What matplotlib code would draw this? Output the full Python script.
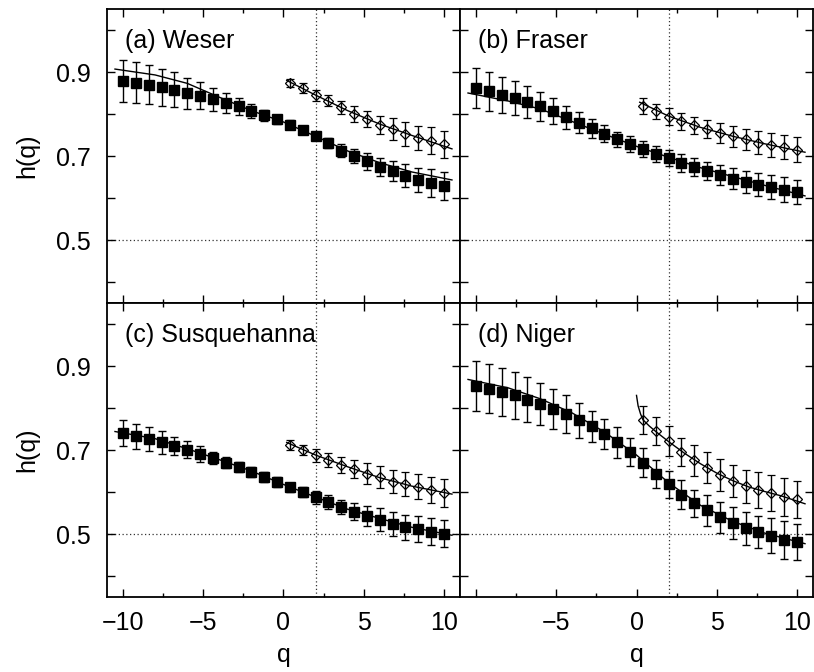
import matplotlib
matplotlib.use('Agg')
import matplotlib.pyplot as plt
from matplotlib.ticker import MultipleLocator, FixedLocator

plt.rcParams['font.family'] = ['Liberation Sans', 'DejaVu Sans']
plt.rcParams['font.size'] = 18

# q values of the data points
q_sq = [-10.0, -9.2, -8.4, -7.6, -6.8, -6.0, -5.2, -4.4, -3.6, -2.8, -2.0, -1.2, -0.4,
        0.4, 1.2, 2.0, 2.8, 3.6, 4.4, 5.2, 6.0, 6.8, 7.6, 8.4, 9.2, 10.0]
q_di = [0.4, 1.2, 2.0, 2.8, 3.6, 4.4, 5.2, 6.0, 6.8, 7.6, 8.4, 9.2, 10.0]

# q values where the fitted curves were read
q_fit_sq = [-10.5, -8, -6, -4, -2, 0, 2, 4, 6, 8, 10.5]
q_fit_di = [0.2, 2, 4, 6, 8, 10.5]
q_fit_di_niger = [0.0, 0.1, 0.25, 0.4, 0.8, 1.2, 2, 3, 4, 5, 6, 7, 8, 9, 10.5]

# (a) Weser
weser_sq = [0.879, 0.875, 0.870, 0.864, 0.858, 0.849, 0.844, 0.835, 0.826, 0.818, 0.808, 0.797, 0.787,
            0.775, 0.762, 0.748, 0.731, 0.713, 0.700, 0.687, 0.674, 0.664, 0.653, 0.643, 0.635, 0.629]
weser_sq_err = [0.050, 0.048, 0.046, 0.044, 0.041, 0.037, 0.033, 0.027, 0.024, 0.020, 0.017, 0.013, 0.011,
                0.010, 0.009, 0.010, 0.012, 0.015, 0.017, 0.020, 0.022, 0.024, 0.027, 0.029, 0.033, 0.033]
weser_di = [0.874, 0.861, 0.845, 0.832, 0.816, 0.800, 0.788, 0.774, 0.764, 0.753, 0.743, 0.736, 0.728]
weser_di_err = [0.010, 0.012, 0.013, 0.013, 0.016, 0.018, 0.020, 0.022, 0.026, 0.029, 0.029, 0.032, 0.032]
weser_fit_sq = [0.907, 0.893, 0.873, 0.840, 0.808, 0.781, 0.747, 0.712, 0.684, 0.662, 0.643]
weser_fit_di = [0.880, 0.845, 0.808, 0.776, 0.749, 0.717]

# (b) Fraser
fraser_sq = [0.862, 0.854, 0.846, 0.838, 0.828, 0.818, 0.807, 0.792, 0.779, 0.766, 0.753, 0.740, 0.728,
             0.717, 0.705, 0.695, 0.683, 0.674, 0.664, 0.655, 0.646, 0.638, 0.632, 0.626, 0.620, 0.615]
fraser_sq_err = [0.047, 0.046, 0.043, 0.041, 0.038, 0.034, 0.030, 0.028, 0.025, 0.022, 0.020, 0.018, 0.019,
                 0.019, 0.019, 0.019, 0.021, 0.022, 0.021, 0.024, 0.025, 0.026, 0.028, 0.028, 0.029, 0.029]
fraser_di = [0.818, 0.806, 0.794, 0.783, 0.773, 0.764, 0.755, 0.747, 0.740, 0.732, 0.726, 0.721, 0.715]
fraser_di_err = [0.019, 0.019, 0.020, 0.020, 0.021, 0.022, 0.024, 0.025, 0.025, 0.028, 0.028, 0.028, 0.030]
fraser_fit_sq = [0.850, 0.831, 0.812, 0.782, 0.752, 0.723, 0.697, 0.672, 0.651, 0.630, 0.605]
fraser_fit_di = [0.828, 0.795, 0.768, 0.747, 0.729, 0.709]

# (c) Susquehanna
susq_sq = [0.741, 0.733, 0.726, 0.718, 0.709, 0.701, 0.690, 0.681, 0.670, 0.659, 0.647, 0.636, 0.624,
           0.611, 0.599, 0.587, 0.576, 0.565, 0.553, 0.543, 0.534, 0.524, 0.516, 0.512, 0.505, 0.501]
susq_sq_err = [0.031, 0.030, 0.028, 0.027, 0.022, 0.021, 0.019, 0.015, 0.013, 0.012, 0.012, 0.011, 0.011,
               0.011, 0.012, 0.015, 0.017, 0.017, 0.020, 0.024, 0.028, 0.029, 0.030, 0.031, 0.032, 0.033]
susq_di = [0.711, 0.700, 0.687, 0.676, 0.665, 0.655, 0.644, 0.635, 0.625, 0.619, 0.613, 0.605, 0.598]
susq_di_err = [0.012, 0.013, 0.015, 0.017, 0.019, 0.021, 0.024, 0.026, 0.027, 0.029, 0.030, 0.031, 0.033]
susq_fit_sq = [0.744, 0.727, 0.703, 0.677, 0.650, 0.618, 0.588, 0.559, 0.537, 0.516, 0.497]
susq_fit_di = [0.718, 0.688, 0.660, 0.634, 0.614, 0.595]

# (d) Niger
niger_sq = [0.853, 0.846, 0.839, 0.830, 0.820, 0.810, 0.798, 0.785, 0.771, 0.756, 0.739, 0.718, 0.695,
            0.670, 0.643, 0.618, 0.594, 0.573, 0.556, 0.540, 0.526, 0.514, 0.505, 0.496, 0.486, 0.481]
niger_sq_err = [0.059, 0.058, 0.057, 0.055, 0.054, 0.050, 0.047, 0.045, 0.042, 0.038, 0.036, 0.036, 0.033,
                0.034, 0.034, 0.033, 0.034, 0.032, 0.036, 0.037, 0.039, 0.039, 0.039, 0.042, 0.045, 0.044]
niger_di = [0.772, 0.745, 0.721, 0.695, 0.676, 0.658, 0.640, 0.626, 0.614, 0.605, 0.597, 0.589, 0.583]
niger_di_err = [0.033, 0.034, 0.035, 0.034, 0.037, 0.037, 0.038, 0.038, 0.039, 0.042, 0.043, 0.045, 0.044]
niger_fit_sq = [0.868, 0.848, 0.822, 0.788, 0.743, 0.688, 0.622, 0.568, 0.530, 0.502, 0.477]
niger_fit_di = [0.830, 0.805, 0.786, 0.772, 0.757, 0.744, 0.720, 0.692, 0.667, 0.645, 0.627, 0.612,
                0.601, 0.591, 0.572]

panels = [
    ('(a) Weser', weser_sq, weser_sq_err, weser_di, weser_di_err, weser_fit_sq, q_fit_di, weser_fit_di),
    ('(b) Fraser', fraser_sq, fraser_sq_err, fraser_di, fraser_di_err, fraser_fit_sq, q_fit_di, fraser_fit_di),
    ('(c) Susquehanna', susq_sq, susq_sq_err, susq_di, susq_di_err, susq_fit_sq, q_fit_di, susq_fit_di),
    ('(d) Niger', niger_sq, niger_sq_err, niger_di, niger_di_err, niger_fit_sq, q_fit_di_niger, niger_fit_di),
]

fig = plt.figure(figsize=(8.14, 6.72), dpi=100)

x0, xm, x1 = 0.1314, 0.5651, 0.9988
yb, ym, yt = 0.1116, 0.5491, 0.9866
rects = [
    [x0, ym, xm - x0, yt - ym],
    [xm, ym, x1 - xm, yt - ym],
    [x0, yb, xm - x0, ym - yb],
    [xm, yb, x1 - xm, ym - yb],
]

for i, (title, sq, sq_err, di, di_err, fit_sq, qfd, fit_di) in enumerate(panels):
    ax = fig.add_axes(rects[i])
    ax.set_xlim(-11, 11)
    ax.set_ylim(0.35, 1.05)

    ax.axhline(0.5, color='0.2', lw=0.9, ls=(0, (1, 2)), zorder=1)
    ax.axvline(2, color='0.2', lw=0.9, ls=(0, (1, 2)), zorder=1)

    ax.plot(q_fit_sq, fit_sq, color='black', lw=1.0, zorder=2)
    ax.plot(qfd, fit_di, color='black', lw=1.0, zorder=2)

    ax.errorbar(q_sq, sq, yerr=sq_err, fmt='s', ms=6.5, color='black', mfc='black',
                ecolor='black', elinewidth=1.0, capsize=2.6, capthick=1.0, zorder=3)
    ax.errorbar(q_di, di, yerr=di_err, fmt='D', ms=5.5, color='black', mfc='none',
                mew=0.9, ecolor='black', elinewidth=1.0, capsize=2.6, capthick=1.0, zorder=3)

    ax.text(0.05, 0.89, title, transform=ax.transAxes, fontsize=18, va='center', ha='left')

    ax.xaxis.set_major_locator(MultipleLocator(5))
    ax.xaxis.set_minor_locator(MultipleLocator(2.5))
    ax.yaxis.set_major_locator(FixedLocator([0.5, 0.7, 0.9]))
    ax.yaxis.set_minor_locator(FixedLocator([0.4, 0.6, 0.8, 1.0]))
    ax.tick_params(which='both', direction='in', top=True, right=True, width=1.0)
    ax.tick_params(which='major', length=6, labelsize=18)
    ax.tick_params(axis='x', which='major', pad=10)
    ax.tick_params(axis='y', which='major', pad=12)
    ax.tick_params(axis='x', which='minor', length=3)
    ax.tick_params(axis='y', which='minor', length=6)
    for s in ax.spines.values():
        s.set_linewidth(1.3)

    if i in (0, 2):
        ax.set_ylabel('h(q)', fontsize=18, labelpad=12)
    else:
        ax.set_yticklabels([])
    if i in (0, 1):
        ax.set_xticklabels([])
    else:
        ax.set_xlabel('q', fontsize=18, labelpad=6)
        if i == 3:
            ax.set_xticks([-10, -5, 0, 5, 10])
            ax.set_xticklabels(['', '\u22125', '0', '5', '10'])

fig.savefig('out.png', dpi=100)
